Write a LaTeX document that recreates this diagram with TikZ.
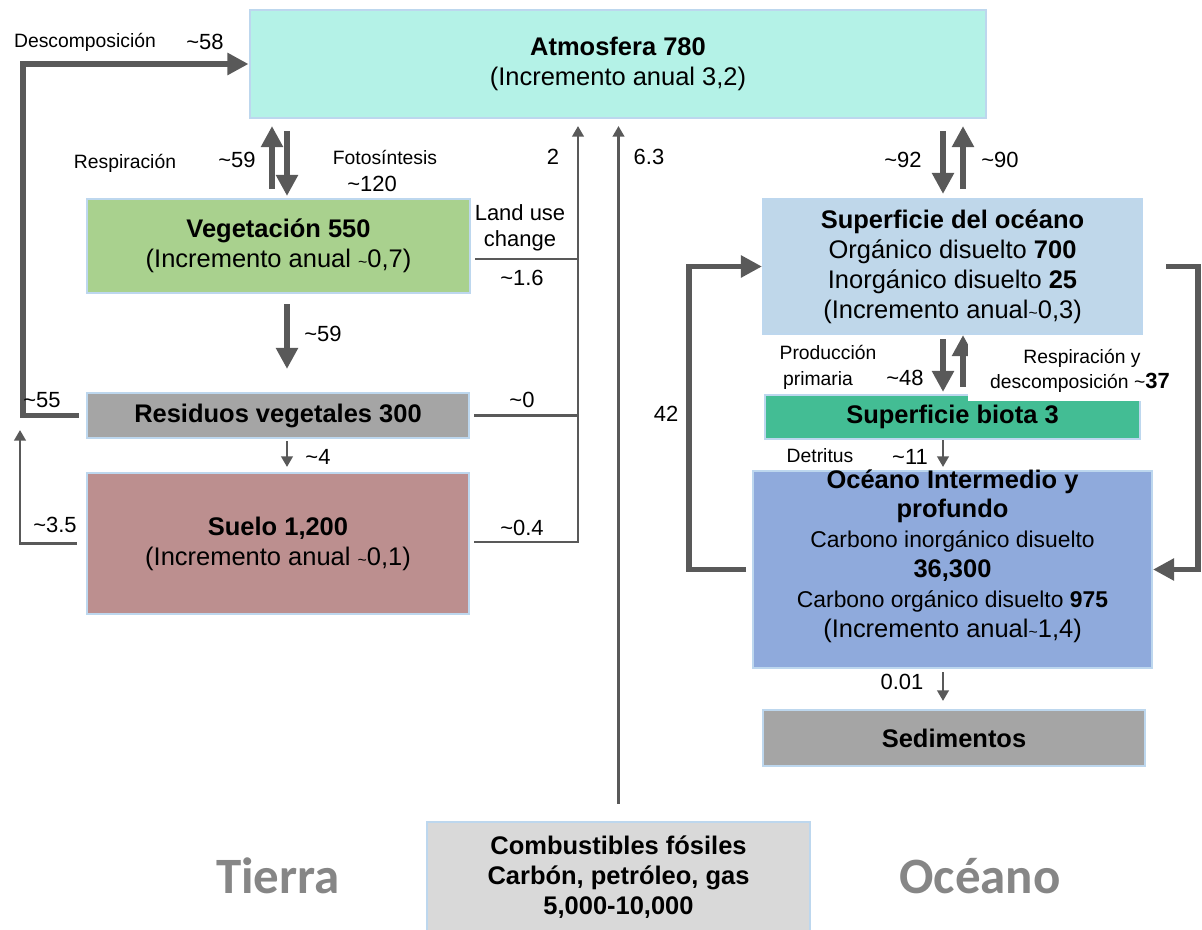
\documentclass[tikz,border=0pt]{standalone}
\usepackage{fontspec}
\setmainfont{Liberation Sans}
\newfontfamily\bigfont{Carlito}
\usetikzlibrary{arrows.meta}

\definecolor{edge}{HTML}{BDD7EE}
\definecolor{arr}{HTML}{595959}
\definecolor{atmcol}{HTML}{B4F2E7}
\definecolor{vegcol}{HTML}{A9D18E}
\definecolor{rescol}{HTML}{A5A5A5}
\definecolor{suecol}{HTML}{BC8F8F}
\definecolor{supcol}{HTML}{BFD7EA}
\definecolor{biocol}{HTML}{43BD94}
\definecolor{profcol}{HTML}{8FAADC}
\definecolor{foscol}{HTML}{D9D9D9}
\definecolor{bigcol}{HTML}{868686}

\newcommand\tild{{\small\textasciitilde}}

\begin{document}
\begin{tikzpicture}[x=0.02cm,y=-0.02cm,
  box/.style={draw=edge,line width=1.2pt,inner sep=0pt,align=center,
    font=\fontsize{14.5}{17}\selectfont},
  thk/.style={draw=arr,line width=3.4pt,-{Triangle[length=12pt,width=12pt]}},
  thn/.style={draw=arr,line width=1.4pt,-{Triangle[length=6pt,width=6.5pt]}},
  ln/.style={draw=arr,line width=1.4pt},
  lbl/.style={font=\fontsize{12.5}{14.7}\selectfont,inner sep=0pt,align=center},
  sml/.style={font=\fontsize{11}{13}\selectfont,inner sep=0pt,align=center},
  big/.style={font=\bigfont\bfseries\fontsize{29}{32}\selectfont,text=bigcol}]

\useasboundingbox (0,0) rectangle (1202,929);

% boxes
\node[box,fill=atmcol,minimum width=14.74cm,minimum height=2.16cm] (atm) at (618,64)
  {\textbf{Atmosfera 780}\\(Incremento anual 3,2)};
\node[box,fill=vegcol,minimum width=7.66cm,minimum height=1.88cm] (veg) at (278.5,246)
  {\textbf{Vegetación 550}\\(Incremento anual \tild0,7)};
\node[box,fill=rescol,minimum width=7.64cm,minimum height=0.9cm] (res) at (278,415.5)
  {\textbf{Residuos vegetales 300}};
\node[box,fill=suecol,minimum width=7.64cm,minimum height=2.82cm] (suelo) at (278,543.5)
  {\textbf{Suelo 1,200}\\(Incremento anual \tild0,1)};
\node[box,fill=supcol,minimum width=7.58cm,minimum height=2.7cm] (sup) at (952.5,266.5)
  {\textbf{Superficie del océano}\\Orgánico disuelto \textbf{700}\\Inorgánico disuelto \textbf{25}\\(Incremento anual\tild0,3)};
\node[box,fill=biocol,minimum width=7.5cm,minimum height=0.88cm] (biota) at (952.5,417)
  {\textbf{Superficie biota 3}};
\node[box,fill=profcol,minimum width=7.98cm,minimum height=3.94cm] (prof) at (952.5,569.5) {};
\node[box,draw=none] (proftxt) at (952.5,556)
  {\textbf{Océano Intermedio y}\\\textbf{profundo}\\{\fontsize{13}{15}\selectfont Carbono inorgánico disuelto}\\\textbf{36,300}\\{\fontsize{13}{15}\selectfont Carbono orgánico disuelto \textbf{975}}\\(Incremento anual\tild1,4)};
\node[box,fill=rescol,minimum width=7.64cm,minimum height=1.12cm] (sed) at (954,738)
  {\textbf{Sedimentos}};
\node[box,fill=foscol,minimum width=7.66cm,minimum height=2.2cm] (fos) at (618.5,877)
  {\textbf{Combustibles fósiles}\\\textbf{Carbón, petróleo, gas}\\\textbf{5,000-10,000}};

\node[big] (tierra) at (278,876) {Tierra};
\node[big] (oceano) at (980,876) {Océano};

% vertical tracks
\coordinate (p1) at (272,0);
\coordinate (p2) at (287,0);
\coordinate (o1) at (943,0);
\coordinate (o2) at (963,0);
\coordinate (lu1) at (578,259);
\coordinate (lu2) at (578,415.5);
\coordinate (lu3) at (578,542);
\coordinate (c35) at (20,430);

% land side
\draw[thk] ([xshift=-0.14cm]res.west) -| ([xshift=-4.52cm]atm.west) -- (atm.west);
\draw[thn] ([xshift=-0.18cm]suelo.west) -| (c35);
\draw[thk,shorten <=0.18cm,shorten >=0.14cm] (p1 |- veg.north) -- (p1 |- atm.south);
\draw[thk,shorten <=0.24cm,shorten >=0.04cm] (p2 |- atm.south) -- (p2 |- veg.north);
\draw[thk,shorten <=0.2cm,shorten >=0.46cm] (p2 |- veg.south) -- (p2 |- res.north);
\draw[thn,shorten <=0.04cm,shorten >=0.1cm] (p2 |- res.south) -- (p2 |- suelo.north);

% land use change
\draw[ln] ([xshift=0.08cm]veg.east |- lu1) -- (lu1);
\draw[ln] ([xshift=0.08cm]res.east) -- (lu2);
\draw[thn,shorten >=0.14cm] ([xshift=0.08cm]suelo.east |- lu3) -- (lu3) -- (lu3 |- atm.south);

% fossil fuels
\draw[thn,shorten >=0.14cm] ([yshift=0.34cm]fos.north) -- (fos.north |- atm.south);

% ocean side
\draw[thk,shorten <=0.24cm,shorten >=0.08cm] (o1 |- atm.south) -- (o1 |- sup.north);
\draw[thk,shorten <=0.18cm,shorten >=0.14cm] (o2 |- sup.north) -- (o2 |- atm.south);
\draw[thk,shorten <=0.08cm,shorten >=0.04cm] (o1 |- sup.south) -- (o1 |- biota.north);
\draw[thk,shorten <=0.14cm] (o2 |- biota.north) -- (o2 |- sup.south);
\draw[thn,shorten >=0.06cm] (o1 |- biota.south) -- (o1 |- prof.north);
\draw[thn,shorten <=0.06cm,shorten >=0.16cm] (o1 |- prof.south) -- (o1 |- sed.north);
\draw[thk] ([xshift=-0.12cm]prof.west) -| ([xshift=-1.46cm]sup.west) -- (sup.west);
\draw[thk] ([xshift=0.46cm]sup.east) -| ([xshift=0.9cm]prof.east) -- (prof.east);

% white patch under the respiration label
\node[fill=white,minimum width=3.64cm,minimum height=1.26cm,inner sep=0pt] (patch) at (1059,369.5) {};

% labels
\node[sml] (ldesc) at (85,42) {Descomposición};
\node[lbl] (l58) at (205,42) {\textasciitilde58};
\node[sml] (lresp) at (125,163) {Respiración};
\node[lbl] (l59a) at (237,160) {\textasciitilde59};
\node[sml] (lfoto) at (385,157) {Fotosíntesis};
\node[lbl] (l120) at (372,184) {\textasciitilde120};
\node[lbl] (l59b) at (323,334) {\textasciitilde59};
\node[lbl] (l4) at (318,457) {\textasciitilde4};
\node[lbl] (l55) at (42,400) {\textasciitilde55};
\node[lbl] (l35) at (55,525) {\textasciitilde3.5};
\node[lbl] (l2) at (553,157) {2};
\node[lbl] (l63) at (649,157) {6.3};
\node[lbl] (lland) at (520,228) {Land use\\change};
\node[lbl] (l16) at (522,278) {\textasciitilde1.6};
\node[lbl] (l0) at (522,400) {\textasciitilde0};
\node[lbl] (l04) at (522,528) {\textasciitilde0.4};
\node[lbl] (l42) at (666,414) {42};
\node[lbl] (l92) at (903,160) {\textasciitilde92};
\node[lbl] (l90) at (1000,160) {\textasciitilde90};
\node[sml] (lprod) at (828,352) {Producción};
\node[sml] (lprim) at (818,380) {primaria};
\node[lbl] (l48) at (905,378) {\textasciitilde48};
\node[sml] (lresp2) at (1082,358) {Respiración y};
\node[sml] (ldesc2) at (1080,383) {descomposición \textasciitilde{\fontsize{12.5}{14}\selectfont\textbf{37}}};
\node[sml] (ldet) at (820,456) {Detritus};
\node[lbl] (l11) at (910,457) {\textasciitilde11};
\node[lbl] (l001) at (902,682) {0.01};

\end{tikzpicture}
\end{document}
